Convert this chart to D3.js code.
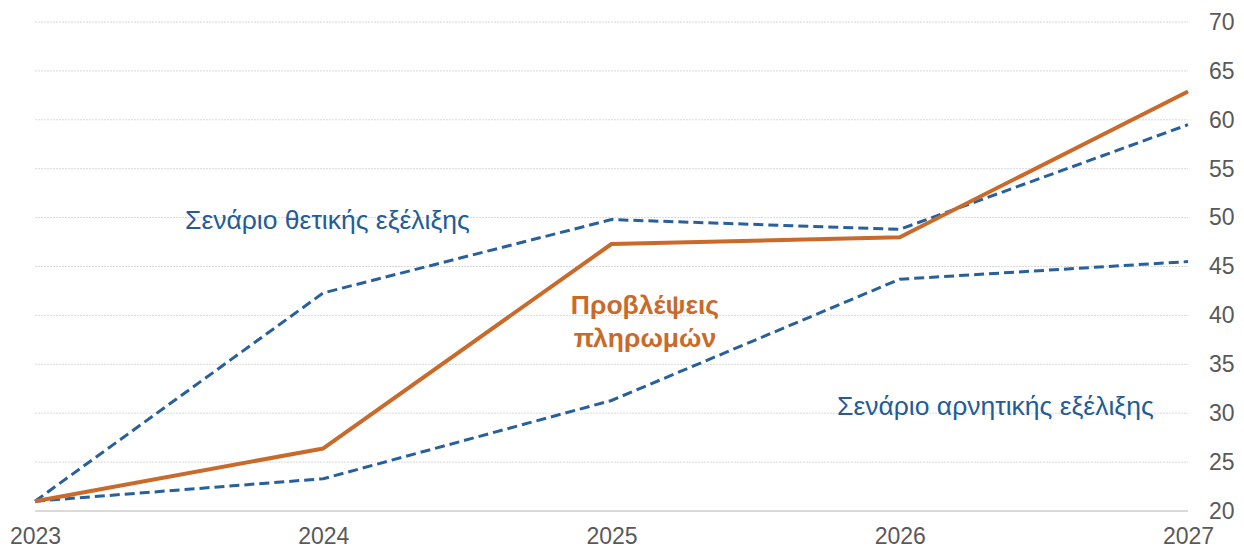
<!DOCTYPE html>
<html>
<head>
<meta charset="utf-8">
<script src="https://cdn.jsdelivr.net/npm/d3@7"></script>
<style>
  body { margin: 0; background: #fff; }
  text { font-family: "Liberation Sans", Arial, sans-serif; }
</style>
</head>
<body>
<div id="chart"></div>
<script>
var years = [2023, 2024, 2025, 2026, 2027];
var forecast = [21, 26.4, 47.3, 48.0, 62.9];
var positive = [21, 42.3, 49.8, 48.8, 59.5];
var negative = [21, 23.3, 31.3, 43.7, 45.5];
var yTicks = [20, 25, 30, 35, 40, 45, 50, 55, 60, 65, 70];

var width = 1244, height = 549;
var margin = {top: 22, right: 56, bottom: 38, left: 35};

var svg = d3.select("#chart")
  .append("svg")
    .attr("width", width)
    .attr("height", height);

var x = d3.scaleLinear()
    .domain([2023, 2027])
    .range([margin.left, width - margin.right]);

var y = d3.scaleLinear()
    .domain([20, 70])
    .range([height - margin.bottom, margin.top]);

// gridlines
svg.append("g")
  .selectAll("line")
  .data(yTicks.slice(1))
  .enter()
  .append("line")
    .attr("x1", x(2023))
    .attr("x2", x(2027))
    .attr("y1", function(d) { return y(d); })
    .attr("y2", function(d) { return y(d); })
    .attr("stroke", "#d9d9d9")
    .attr("stroke-width", 1)
    .attr("stroke-dasharray", "2,1");

// baseline
svg.append("line")
    .attr("x1", x(2023))
    .attr("x2", x(2027))
    .attr("y1", y(20))
    .attr("y2", y(20))
    .attr("stroke", "#d9d9d9")
    .attr("stroke-width", 2);

// y axis on the right
var yAxis = svg.append("g")
    .attr("transform", "translate(" + (x(2027) + 21) + ",0)")
    .call(d3.axisRight(y).tickValues(yTicks).tickSize(0).tickPadding(0));
yAxis.select(".domain").remove();
yAxis.selectAll("text")
    .style("font-size", "23px")
    .attr("fill", "#595959");

// x axis
var xAxis = svg.append("g")
    .attr("transform", "translate(0," + (y(20) + 17) + ")")
    .call(d3.axisBottom(x).tickValues(years).tickFormat(d3.format("d")).tickSize(0).tickPadding(0));
xAxis.select(".domain").remove();
xAxis.selectAll("text")
    .style("font-size", "23px")
    .attr("fill", "#595959");

var line = d3.line()
    .x(function(d, i) { return x(years[i]); })
    .y(function(d) { return y(d); });

svg.append("path")
    .datum(positive)
    .attr("d", line)
    .attr("fill", "none")
    .attr("stroke", "#27609b")
    .attr("stroke-width", 3)
    .attr("stroke-dasharray", "10,5");

svg.append("path")
    .datum(negative)
    .attr("d", line)
    .attr("fill", "none")
    .attr("stroke", "#27609b")
    .attr("stroke-width", 3)
    .attr("stroke-dasharray", "10,5");

svg.append("path")
    .datum(forecast)
    .attr("d", line)
    .attr("fill", "none")
    .attr("stroke", "#c96a2b")
    .attr("stroke-width", 4)
    .attr("stroke-linejoin", "round");

// labels
svg.append("text")
    .attr("x", 185)
    .attr("y", 229)
    .attr("fill", "#235c97")
    .style("font-size", "26.5px")
    .text("Σενάριο θετικής εξέλιξης");

svg.append("text")
    .attr("x", 837)
    .attr("y", 415)
    .attr("fill", "#235c97")
    .style("font-size", "26.5px")
    .text("Σενάριο αρνητικής εξέλιξης");

var fl = svg.append("text")
    .attr("text-anchor", "middle")
    .attr("fill", "#c96a2b")
    .style("font-size", "26.5px")
    .style("font-weight", "bold");
fl.append("tspan").attr("x", 645).attr("y", 314).text("Προβλέψεις");
fl.append("tspan").attr("x", 645).attr("y", 347).text("πληρωμών");
</script>
</body>
</html>
